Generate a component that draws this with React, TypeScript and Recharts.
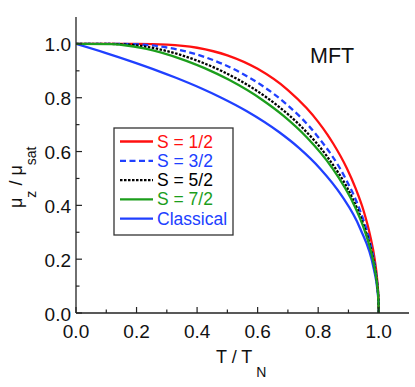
import React from "react";
import { LineChart, Line, XAxis, YAxis } from "recharts";

// T / T_N and mu_z / mu_sat values
const s12T = [0, 0.1, 0.2, 0.3, 0.4, 0.5, 0.6, 0.7, 0.7616, 0.8, 0.83, 0.85, 0.895, 0.924, 0.95, 0.971, 0.987, 0.995, 0.999, 1.0];
const s12M = [1, 1, 0.9999, 0.9974, 0.9857, 0.9575, 0.9073, 0.8286, 0.7616, 0.7104, 0.664, 0.629, 0.537, 0.462, 0.38, 0.291, 0.197, 0.122, 0.055, 0];

const s32T = [0, 0.12, 0.1798, 0.2243, 0.2963, 0.3511, 0.4276, 0.5379, 0.6107, 0.6969, 0.7941, 0.8922, 0.9353, 0.97, 0.98, 0.99, 0.995, 0.999, 1.0];
const s32M = [1, 1, 0.9992, 0.9968, 0.9876, 0.9753, 0.9503, 0.8966, 0.8482, 0.7743, 0.6618, 0.4957, 0.3897, 0.2694, 0.2214, 0.1566, 0.1107, 0.0495, 0];

const s52T = [0, 0.1071, 0.1427, 0.2127, 0.2633, 0.3429, 0.4017, 0.4816, 0.5924, 0.6627, 0.7433, 0.8298, 0.9132, 0.9485, 0.9762, 0.99, 0.995, 0.999, 1.0];
const s52M = [1, 0.9999, 0.999, 0.9925, 0.983, 0.9601, 0.9374, 0.899, 0.8294, 0.7732, 0.6935, 0.5809, 0.4262, 0.332, 0.2278, 0.1486, 0.105, 0.047, 0];

const s72T = [0, 0.1166, 0.1549, 0.2293, 0.2822, 0.3645, 0.4247, 0.5054, 0.6158, 0.6847, 0.7621, 0.8441, 0.9213, 0.9535, 0.9786, 0.99, 0.995, 0.999, 1.0];
const s72M = [1, 0.9991, 0.996, 0.9826, 0.9677, 0.9372, 0.91, 0.8665, 0.7918, 0.7336, 0.6532, 0.5426, 0.3949, 0.3065, 0.2097, 0.1441, 0.102, 0.0456, 0];

const clT = [0, 0.0967, 0.1867, 0.27, 0.328, 0.4167, 0.48, 0.563, 0.6716, 0.7363, 0.806, 0.8763, 0.939, 0.9837, 0.995, 0.999, 1.0];
const clM = [1, 0.9667, 0.9333, 0.9, 0.875, 0.8333, 0.8001, 0.7507, 0.6716, 0.6136, 0.5373, 0.4381, 0.313, 0.164, 0.0913, 0.0408, 0];

const seriesNames = ["S = 1/2", "S = 3/2", "S = 5/2", "S = 7/2", "Classical"];
const seriesColors = ["#ff1010", "#2040ff", "#000000", "#1c9e1c", "#2040ff"];
const seriesDash = [undefined, "6 3.5", "2.5 1.5", undefined, undefined];

const xTicks = [0, 0.1, 0.2, 0.3, 0.4, 0.5, 0.6, 0.7, 0.8, 0.9, 1.0];
const yTicks = [0, 0.1, 0.2, 0.3, 0.4, 0.5, 0.6, 0.7, 0.8, 0.9, 1.0];

const toPts = (ts: number[], ms: number[]) => ts.map((t, i) => ({ t, m: ms[i] }));
const seriesData = [toPts(s12T, s12M), toPts(s32T, s32M), toPts(s52T, s52M), toPts(s72T, s72M), toPts(clT, clM)];
const drawOrder = [4, 0, 1, 2, 3];

const FONT = "'Liberation Sans', Arial, sans-serif";
const AX = "#222";
const isMajor = (v: number) => Math.round(v * 10) % 2 === 0;

const BottomTick = (p: any) => {
  const v = p.payload.value;
  const maj = isMajor(v);
  return (
    <g>
      <line x1={p.x} x2={p.x} y1={p.y} y2={p.y - (maj ? 6 : 3.5)} stroke={AX} strokeWidth={1.2} />
      {maj && (
        <text x={p.x} y={p.y + 25} textAnchor="middle" fontSize={19} fontFamily={FONT} fill="#111">
          {v.toFixed(1)}
        </text>
      )}
    </g>
  );
};
const LeftTick = (p: any) => {
  const v = p.payload.value;
  const maj = isMajor(v);
  return (
    <g>
      <line x1={p.x} x2={p.x + (maj ? 6 : 3.5)} y1={p.y} y2={p.y} stroke={AX} strokeWidth={1.2} />
      {maj && (
        <text x={p.x - 5} y={p.y + 7.5} textAnchor="end" fontSize={19} fontFamily={FONT} fill="#111">
          {v.toFixed(1)}
        </text>
      )}
    </g>
  );
};
const TopTick = (p: any) => {
  const maj = isMajor(p.payload.value);
  return <line x1={p.x} x2={p.x} y1={p.y} y2={p.y + (maj ? 6 : 3.5)} stroke={AX} strokeWidth={1.2} />;
};
const RightTick = (p: any) => {
  const maj = isMajor(p.payload.value);
  return <line x1={p.x} x2={p.x - (maj ? 6 : 3.5)} y1={p.y} y2={p.y} stroke={AX} strokeWidth={1.2} />;
};

export default function App() {
  return (
    <div style={{ position: "relative", width: 415, height: 387, background: "#fff" }}>
      <style>{"body{margin:0;}"}</style>
      <LineChart width={415} height={387} margin={{ top: 17, right: 6, bottom: 0, left: 0 }}>
        <XAxis
          xAxisId="b"
          type="number"
          dataKey="t"
          domain={[0, 1.1]}
          ticks={xTicks}
          interval={0}
          tickSize={0}
          tickMargin={0}
          height={74}
          axisLine={{ stroke: AX, strokeWidth: 1.3 }}
          tickLine={false}
          tick={<BottomTick />}
          allowDataOverflow
        />
        <XAxis
          xAxisId="top"
          orientation="top"
          type="number"
          dataKey="t"
          domain={[0, 1.1]}
          ticks={xTicks}
          interval={0}
          tickSize={0}
          tickMargin={0}
          height={0}
          axisLine={{ stroke: AX, strokeWidth: 1.3 }}
          tickLine={false}
          tick={<TopTick />}
          allowDataOverflow
        />
        <YAxis
          yAxisId="l"
          type="number"
          domain={[0, 1.1]}
          ticks={yTicks}
          interval={0}
          tickSize={0}
          tickMargin={0}
          width={76}
          axisLine={{ stroke: AX, strokeWidth: 1.3 }}
          tickLine={false}
          tick={<LeftTick />}
          allowDataOverflow
        />
        <YAxis
          yAxisId="r"
          orientation="right"
          type="number"
          domain={[0, 1.1]}
          ticks={yTicks}
          interval={0}
          tickSize={0}
          tickMargin={0}
          width={0}
          axisLine={{ stroke: AX, strokeWidth: 1.3 }}
          tickLine={false}
          tick={<RightTick />}
          allowDataOverflow
        />
        {drawOrder.map((i) => (
          <Line
            key={seriesNames[i]}
            xAxisId="b"
            yAxisId="l"
            data={seriesData[i]}
            dataKey="m"
            name={seriesNames[i]}
            type="monotone"
            stroke={seriesColors[i]}
            strokeWidth={2.3}
            strokeDasharray={seriesDash[i]}
            dot={false}
            activeDot={false}
            isAnimationActive={false}
          />
        ))}
      </LineChart>
      <svg width={415} height={387} style={{ position: "absolute", left: 0, top: 0, pointerEvents: "none" }}>
        <text x={310} y={63} fontSize={21.5} fontFamily={FONT} fill="#111">MFT</text>
        <rect x={114} y={128} width={119} height={107} fill="#fff" stroke="#333" strokeWidth={1.3} />
        {seriesNames.map((n, i) => {
          const y = 141.5 + i * 19.3;
          return (
            <g key={n}>
              <line x1={120} x2={153} y1={y} y2={y} stroke={seriesColors[i]} strokeWidth={2.3} strokeDasharray={seriesDash[i]} />
              <text x={157} y={y + 6} fontSize={17.5} fontFamily={FONT} fill={seriesColors[i]}>{n}</text>
            </g>
          );
        })}
        <text x={216} y={363} fontSize={18} fontFamily={FONT} fill="#111">
          T / T<tspan dx={4} dy={14} fontSize={14}>N</tspan>
        </text>
        <text transform="rotate(-90)" x={-208} y={22} fontSize={18} fontFamily={FONT} fill="#111">
          μ<tspan dy={14} fontSize={14}>z</tspan>
          <tspan dy={-14}> / μ</tspan>
          <tspan dy={14} fontSize={14}>sat</tspan>
        </text>
      </svg>
    </div>
  );
}
